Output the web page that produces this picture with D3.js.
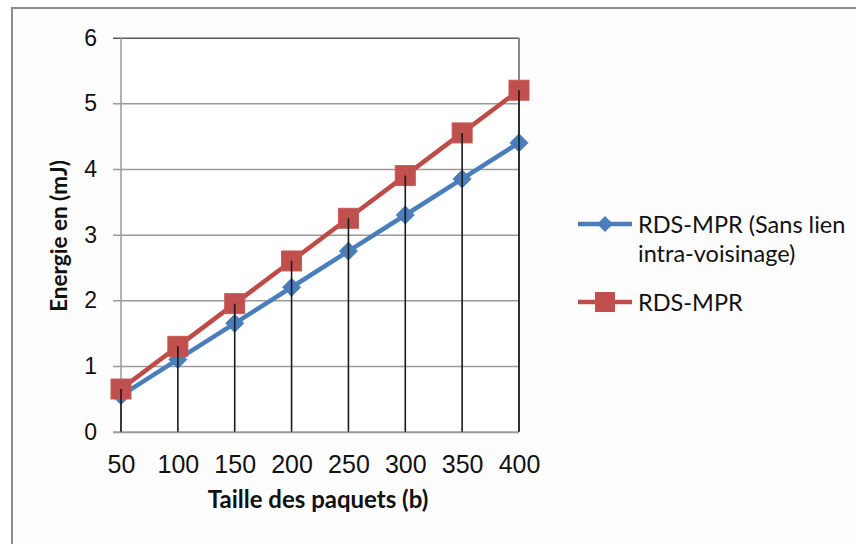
<!DOCTYPE html>
<html><head><meta charset="utf-8">
<script src="https://cdn.jsdelivr.net/npm/d3@7"></script>
<style>body{margin:0;background:#fff}svg{display:block}</style>
</head><body>
<script>
const categories = [50, 100, 150, 200, 250, 300, 350, 400];
const seriesNames = ["RDS-MPR (Sans lien intra-voisinage)", "RDS-MPR"];
const blueValues = [0.55, 1.1, 1.65, 2.2, 2.75, 3.3, 3.85, 4.4];
const redValues = [0.65, 1.3, 1.95, 2.6, 3.25, 3.9, 4.55, 5.2];
const yTicks = [0, 1, 2, 3, 4, 5, 6];
const xTitle = "Taille des paquets (b)";
const yTitle = "Energie en (mJ)";

const W = 856, H = 544;
const svg = d3.select("body").append("svg").attr("width", W).attr("height", H);
svg.append("rect").attr("width", W).attr("height", H).attr("fill", "#fff");
// outer chart border (top and left visible)
svg.append("rect").attr("x", 12).attr("y", 8).attr("width", W + 20).attr("height", H + 20)
  .attr("fill", "#fdfdfd").attr("stroke", "#8c8c8c").attr("stroke-width", 2);

const L = 121, R = 519, T = 37.7, B = 431.7;
const x = d3.scalePoint().domain(categories).range([L, R]).padding(0);
const y = d3.scaleLinear().domain([0, 6]).range([B, T]);

svg.append("rect").attr("x", L).attr("y", T).attr("width", R - L).attr("height", B - T).attr("fill", "#fff");

// horizontal gridlines + ticks
const yAxis = d3.axisLeft(y).tickValues(yTicks).tickFormat(d3.format("d")).tickSize(-(R - L)).tickSizeOuter(0).tickPadding(24);
const gy = svg.append("g").attr("transform", `translate(${L},0)`).call(yAxis);
gy.select(".domain").remove();
gy.selectAll(".tick line").attr("x1", -8).attr("stroke", d => d === 6 ? "#5a5a5a" : "#9a9a9a").attr("stroke-width", d => d === 0 ? 2 : 1.5);
gy.selectAll(".tick text").attr("font-family", "Liberation Sans, Arial, sans-serif").attr("font-size", 23).attr("fill", "#111");

// left axis and right border
svg.append("line").attr("x1", L).attr("x2", L).attr("y1", T).attr("y2", B).attr("stroke", "#9a9a9a").attr("stroke-width", 1.5);
svg.append("line").attr("x1", R).attr("x2", R).attr("y1", T).attr("y2", B).attr("stroke", "#8a8a8a").attr("stroke-width", 2);

// x axis labels
const xAxis = d3.axisBottom(x).tickSize(0).tickPadding(24);
const gx = svg.append("g").attr("transform", `translate(0,${B})`).call(xAxis);
gx.select(".domain").remove();
gx.selectAll(".tick text").attr("font-family", "Liberation Sans, Arial, sans-serif").attr("font-size", 25).attr("fill", "#111");

const blue = "#4a7ebb", red = "#be4b48";

const line = d3.line().x((d, i) => x(categories[i])).y(d => y(d));
svg.append("path").datum(blueValues).attr("d", line).attr("fill", "none").attr("stroke", blue).attr("stroke-width", 4.5).attr("stroke-linejoin", "round");
svg.append("path").datum(redValues).attr("d", line).attr("fill", "none").attr("stroke", red).attr("stroke-width", 4.5).attr("stroke-linejoin", "round");

const diamond = (cx, cy, r) => `M${cx},${cy - r}L${cx + r},${cy}L${cx},${cy + r}L${cx - r},${cy}Z`;
svg.selectAll(".bm").data(blueValues).enter().append("path")
  .attr("d", (d, i) => diamond(x(categories[i]), y(d), 9)).attr("fill", blue).attr("stroke", blue).attr("stroke-width", 1);
svg.selectAll(".rm").data(redValues).enter().append("rect")
  .attr("x", (d, i) => x(categories[i]) - 10).attr("y", d => y(d) - 10)
  .attr("width", 20).attr("height", 20).attr("fill", "#c0504d").attr("stroke", "#c55a57").attr("stroke-width", 1);

// drop lines
svg.selectAll(".drop").data(categories).enter().append("line")
  .attr("x1", d => x(d)).attr("x2", d => x(d))
  .attr("y1", (d, i) => y(Math.max(blueValues[i], redValues[i]))).attr("y2", B)
  .attr("stroke", "#1a1a1a").attr("stroke-width", 1.6);

// axis titles
svg.append("text").attr("x", 318).attr("y", 508).attr("text-anchor", "middle")
  .attr("font-family", "Lato, sans-serif").attr("font-weight", "bold").attr("font-size", 24).attr("fill", "#111").text(xTitle);
svg.append("text").attr("transform", "translate(67,236) rotate(-90)").attr("text-anchor", "middle")
  .attr("font-family", "Lato, sans-serif").attr("font-weight", "bold").attr("font-size", 22.5).attr("fill", "#111").text(yTitle);

// legend
const lg = svg.append("g").attr("font-family", "Lato, sans-serif").attr("font-size", 23.5).attr("fill", "#111");
lg.append("line").attr("x1", 578).attr("x2", 632).attr("y1", 224).attr("y2", 224).attr("stroke", blue).attr("stroke-width", 4.5);
lg.append("path").attr("d", diamond(605, 224, 8)).attr("fill", blue);
lg.append("text").attr("x", 638).attr("y", 233).text("RDS-MPR (Sans lien");
lg.append("text").attr("x", 638).attr("y", 262).text("intra-voisinage)");
lg.append("line").attr("x1", 578).attr("x2", 632).attr("y1", 302).attr("y2", 302).attr("stroke", red).attr("stroke-width", 4.5);
lg.append("rect").attr("x", 595).attr("y", 292).attr("width", 20).attr("height", 20).attr("fill", "#c0504d");
lg.append("text").attr("x", 638).attr("y", 311).text(seriesNames[1]);
</script>
</body></html>
